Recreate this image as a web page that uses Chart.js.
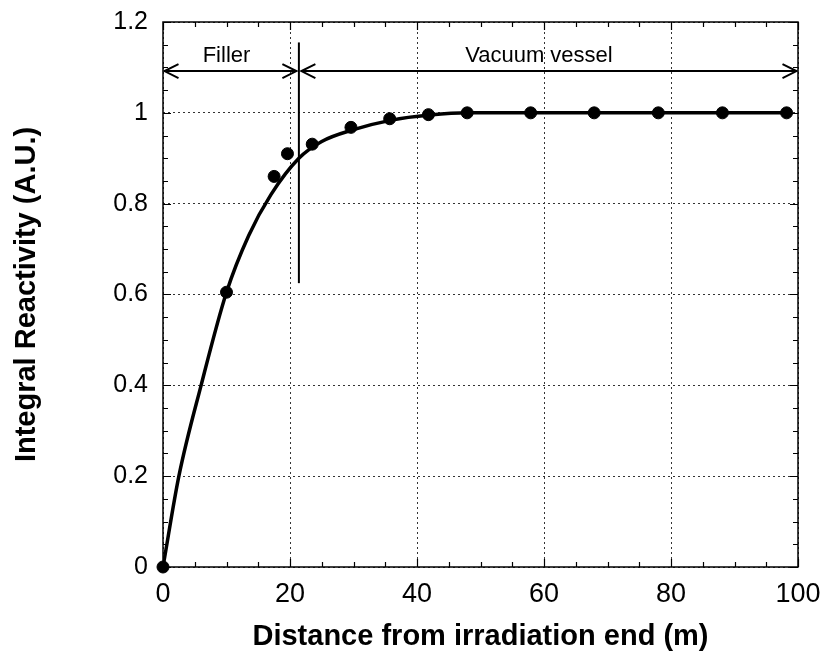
<!DOCTYPE html>
<html>
<head>
<meta charset="utf-8">
<script src="https://cdn.jsdelivr.net/npm/chart.js@4.4.1/dist/chart.umd.min.js"></script>
<style>
html,body{margin:0;padding:0;background:#fff;}
#wrap{width:833px;height:658px;position:relative;}
canvas{display:block;}
</style>
</head>
<body>
<div id="wrap"><canvas id="c" width="833" height="658" style="width:833px;height:658px"></canvas></div>
<script>
// ---- data ----
const pointX = [0, 10, 17.5, 19.6, 23.5, 29.6, 35.7, 41.8, 47.9, 57.9, 67.9, 78.0, 88.1, 98.2];
const pointY = [0, 0.605, 0.86, 0.91, 0.931, 0.968, 0.987, 0.996, 1.0, 1.0, 1.0, 1.0, 1.0, 1.0];
const curveX = [0, 2.5, 6, 10, 13.5, 17, 21.4, 25, 30, 36, 42, 48, 60, 99];
const curveY = [0, 0.2, 0.4, 0.605, 0.73, 0.82, 0.9, 0.937, 0.963, 0.984, 0.995, 1.0, 1.0, 1.0];
const xTickValues = [0, 20, 40, 60, 80, 100];
const yTickValues = [0, 0.2, 0.4, 0.6, 0.8, 1.0, 1.2];
const regionNames = ['Filler', 'Vacuum vessel'];
const regionBounds = [0, 21.4, 100];
const regionLabelX = [10, 59.2];
const arrowLevel = 1.092;
const labelLevel = 1.111;
const dividerRange = [0.625, 1.155];
const xTitle = 'Distance from irradiation end (m)';
const yTitle = 'Integral Reactivity (A.U.)';

const FONT = '"Liberation Sans", Arial, Helvetica, sans-serif';

const framePlugin = {
  id: 'frame',
  afterDraw(chart) {
    const ctx = chart.ctx;
    const xs = chart.scales.x, ys = chart.scales.y;
    const a = chart.chartArea;
    ctx.save();
    // border
    ctx.strokeStyle = '#000';
    ctx.lineWidth = 1.5;
    ctx.strokeRect(a.left, a.top, a.right - a.left, a.bottom - a.top);
    // inward ticks on all four sides
    ctx.lineWidth = 1.2;
    ctx.beginPath();
    for (let v = 0; v <= 100.001; v += 5) {
      const px = Math.round(xs.getPixelForValue(v)) + 0.5;
      const len = (Math.abs(v % 20) < 1e-6) ? 8 : 5;
      ctx.moveTo(px, a.bottom); ctx.lineTo(px, a.bottom - len);
      ctx.moveTo(px, a.top); ctx.lineTo(px, a.top + len);
    }
    for (let i = 0; i <= 24; i++) {
      const v = i * 0.05;
      const py = Math.round(ys.getPixelForValue(v)) + 0.5;
      const len = (i % 4 === 0) ? 8 : 5;
      ctx.moveTo(a.left, py); ctx.lineTo(a.left + len, py);
      ctx.moveTo(a.right, py); ctx.lineTo(a.right - len, py);
    }
    ctx.stroke();

    // divider line
    const dx = xs.getPixelForValue(regionBounds[1]);
    ctx.lineWidth = 2;
    ctx.beginPath();
    ctx.moveTo(dx, ys.getPixelForValue(dividerRange[1]));
    ctx.lineTo(dx, ys.getPixelForValue(dividerRange[0]));
    ctx.stroke();

    // arrows
    const ay = ys.getPixelForValue(arrowLevel);
    function head(tipX, dir) {
      ctx.beginPath();
      ctx.moveTo(tipX - dir * 14, ay - 7);
      ctx.lineTo(tipX, ay);
      ctx.lineTo(tipX - dir * 14, ay + 7);
      ctx.stroke();
    }
    ctx.lineWidth = 2;
    ctx.lineJoin = 'miter';
    for (let r = 0; r < regionNames.length; r++) {
      const x1 = xs.getPixelForValue(regionBounds[r]) + (r === 0 ? 1.5 : 2.5);
      const x2 = xs.getPixelForValue(regionBounds[r + 1]) - (r === 0 ? 2.5 : 1.5);
      ctx.beginPath();
      ctx.moveTo(x1, ay); ctx.lineTo(x2, ay);
      ctx.stroke();
      head(x1, -1);
      head(x2, 1);
    }
    // labels
    ctx.fillStyle = '#000';
    ctx.font = '22px ' + FONT;
    ctx.textAlign = 'center';
    ctx.textBaseline = 'alphabetic';
    for (let r = 0; r < regionNames.length; r++) {
      ctx.fillText(regionNames[r], xs.getPixelForValue(regionLabelX[r]), ys.getPixelForValue(labelLevel));
    }
    ctx.restore();
  }
};

new Chart(document.getElementById('c'), {
  type: 'scatter',
  data: {
    datasets: [
      {
        label: 'Fit',
        data: curveX.map((x, i) => ({x, y: curveY[i]})),
        showLine: true,
        borderColor: '#000',
        borderWidth: 3.5,
        pointRadius: 0,
        cubicInterpolationMode: 'monotone',
        fill: false
      },
      {
        label: 'Measured',
        data: pointX.map((x, i) => ({x, y: pointY[i]})),
        showLine: false,
        backgroundColor: '#000',
        borderColor: '#000',
        pointRadius: 6,
        pointHoverRadius: 6,
        clip: false
      }
    ]
  },
  options: {
    responsive: false,
    animation: false,
    devicePixelRatio: 1,
    layout: { padding: { top: 22, right: 35, left: 0, bottom: 0 } },
    plugins: { legend: { display: false }, tooltip: { enabled: false } },
    scales: {
      x: {
        type: 'linear',
        min: 0, max: 100,
        afterBuildTicks(s) { s.ticks = xTickValues.map(v => ({value: v})); },
        afterFit(s) { s.height = 91; s.paddingLeft = 0; s.paddingRight = 0; },
        ticks: { color: '#000', font: { family: FONT, size: 27 }, padding: 11, maxRotation: 0,
                 callback: v => String(v) },
        grid: { display: true, drawTicks: false, color: '#333', lineWidth: 1 },
        border: { display: false, dash: [2, 3] },
        title: { display: true, text: xTitle, color: '#000', font: { family: FONT, size: 29, weight: 'bold' }, padding: { top: 0, bottom: 4 } }
      },
      y: {
        type: 'linear',
        min: 0, max: 1.2,
        afterBuildTicks(s) { s.ticks = yTickValues.map(v => ({value: v})); },
        afterFit(s) { s.width = 163; s.paddingTop = 0; s.paddingBottom = 0; },
        ticks: { color: '#000', font: { family: FONT, size: 25 }, padding: 15,
                 callback: v => String(Math.round(v * 10) / 10) },
        grid: { display: true, drawTicks: false, color: '#333', lineWidth: 1 },
        border: { display: false, dash: [2, 3] },
        title: { display: true, text: yTitle, color: '#000', font: { family: FONT, size: 29, weight: 'bold' }, padding: { top: 10, bottom: 0 } }
      }
    }
  },
  plugins: [framePlugin]
});
</script>
</body>
</html>
